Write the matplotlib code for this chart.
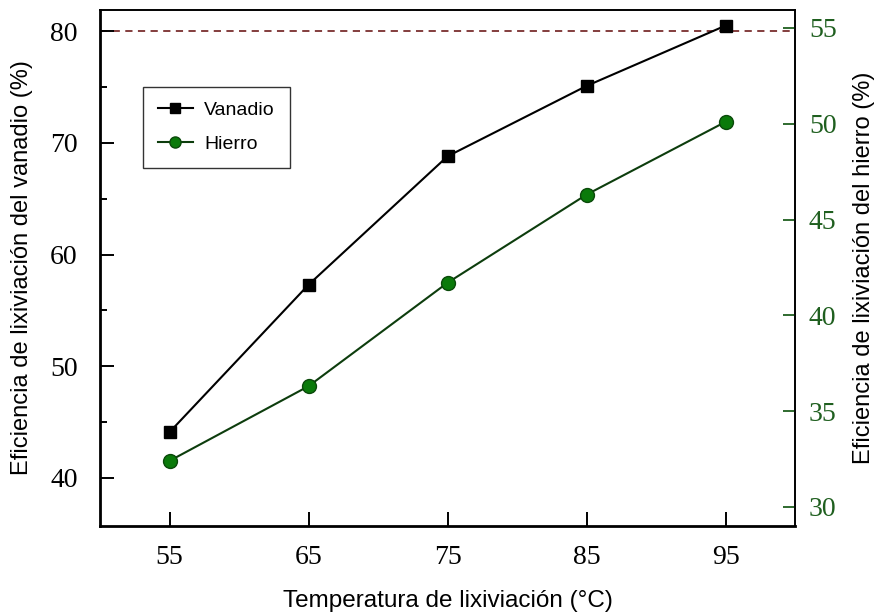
import matplotlib
matplotlib.use('Agg')
import matplotlib.pyplot as plt
from matplotlib.ticker import MultipleLocator

# datos
temperatura = [55, 65, 75, 85, 95]
vanadio = [44.1, 57.3, 68.8, 75.1, 80.5]
hierro = [32.4, 36.3, 41.7, 46.3, 50.1]

x_ticks = [55, 65, 75, 85, 95]
y_izq_ticks = [40, 50, 60, 70, 80]
y_der_ticks = [30, 35, 40, 45, 50, 55]

fig = plt.figure(figsize=(8.78, 6.13), dpi=100)
ax = fig.add_axes([0.1139, 0.1419, 0.7916, 0.8418])
ax2 = ax.twinx()

serif = 'Liberation Serif'
sans = 'Liberation Sans'
verde = '#1f5f1f'

# Vanadio (eje izquierdo)
l1, = ax.plot(temperatura, vanadio, color='black', lw=1.5, marker='s',
              markersize=9, markerfacecolor='black', label='Vanadio')
ax.axhline(80, color='#7a2e2e', lw=1.3, ls=(0, (4, 3)), zorder=1)

# Hierro (eje derecho)
l2, = ax2.plot(temperatura, hierro, color='#0d3d0d', lw=1.5, marker='o',
               markersize=10, markerfacecolor='#0a7a0a',
               markeredgecolor='#0a4a0a', label='Hierro')

ax.set_xlim(50, 100)
ax.set_ylim(35.7, 81.9)
ax2.set_ylim(29.0, 55.94)

ax.set_xticks(x_ticks)
ax.set_yticks(y_izq_ticks)
ax.yaxis.set_minor_locator(MultipleLocator(5))
ax2.set_yticks(y_der_ticks)

ax.tick_params(axis='both', which='both', direction='in', length=10, width=1.4,
               labelsize=20, top=False, right=False)
ax.tick_params(axis='x', pad=14)
ax.tick_params(axis='y', pad=16)
ax.tick_params(axis='y', which='minor', length=5)
ax2.tick_params(axis='y', direction='in', length=9, width=1.3, labelsize=20,
                labelcolor=verde, color=verde, pad=10)

for lab in ax.get_xticklabels() + ax.get_yticklabels() + ax2.get_yticklabels():
    lab.set_fontfamily(serif)

for s in ['left', 'bottom']:
    ax.spines[s].set_linewidth(2)
for s in ['top', 'right']:
    ax.spines[s].set_linewidth(1.2)
    ax2.spines[s].set_linewidth(1.2)
ax2.spines['left'].set_visible(False)
ax2.spines['bottom'].set_visible(False)

ax.set_xlabel('Temperatura de lixiviación (°C)', fontfamily=sans, fontsize=17.5, labelpad=14)
ax.set_ylabel('Eficiencia de lixiviación del vanadio (%)', fontfamily=sans, fontsize=17, labelpad=12)
ax2.set_ylabel('Eficiencia de lixiviación del hierro (%)', fontfamily=sans, fontsize=17, labelpad=12)

leg = ax.legend(handles=[l1, l2], loc='upper left', bbox_to_anchor=(0.062, 0.851),
                borderaxespad=0, prop={'family': sans, 'size': 14}, frameon=True,
                fancybox=False, edgecolor='black', borderpad=0.75, labelspacing=0.85,
                handlelength=1.8, handletextpad=0.6, markerscale=0.8)
leg.get_frame().set_linewidth(1.0)

fig.savefig('out.png', dpi=100)
